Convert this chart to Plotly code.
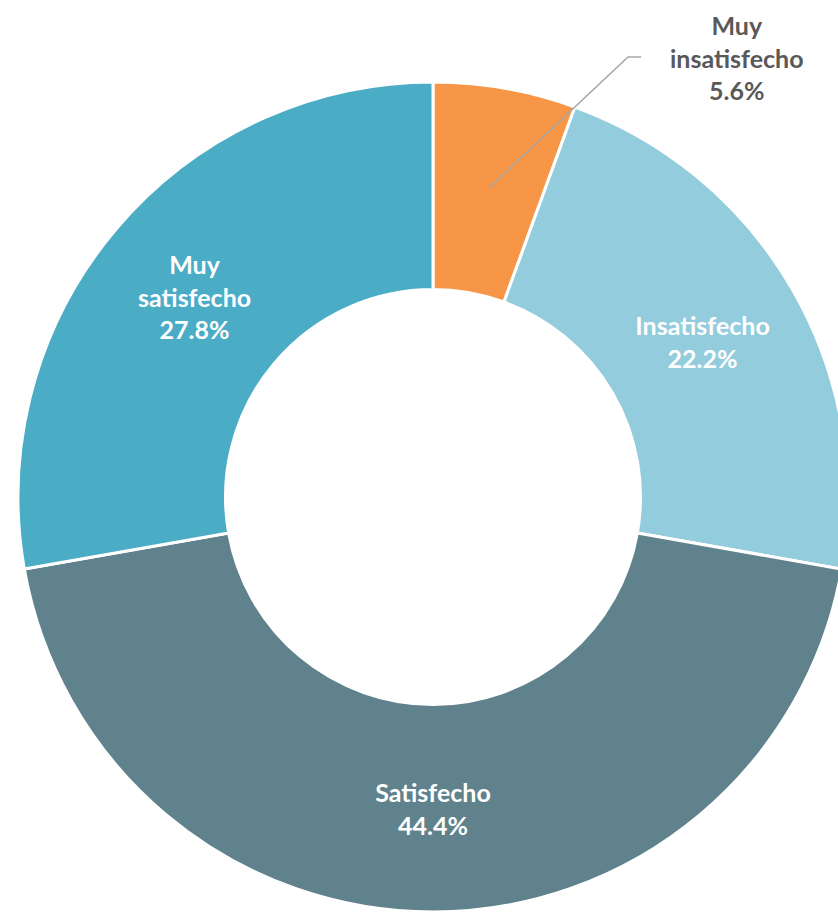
import plotly.graph_objects as go

categories = ["Muy insatisfecho", "Insatisfecho", "Satisfecho", "Muy satisfecho"]
counts = [1, 4, 8, 5]
colors = ["#F79646", "#93CDDD", "#60828D", "#4BACC6"]
inside_labels = ["", "Insatisfecho", "Satisfecho", "Muy<br>satisfecho"]

W, H = 860, 913
cx, cy, R = 433, 497, 415

total = sum(counts)
texts = []
for lab, c in zip(inside_labels, counts):
    texts.append("" if lab == "" else f"<b>{lab}<br>{100*c/total:.1f}%</b>")

fig = go.Figure(go.Pie(
    labels=categories,
    values=counts,
    hole=0.5,
    sort=False,
    direction="clockwise",
    rotation=0,
    marker=dict(colors=colors, line=dict(color="white", width=3)),
    text=texts,
    textinfo="text",
    textposition="inside",
    insidetextorientation="horizontal",
    textfont=dict(family="Lato", size=25, color="white"),
    showlegend=False,
    hoverinfo="label+percent",
    domain=dict(x=[(cx - R) / W, (cx + R) / W], y=[(H - cy - R) / H, (H - cy + R) / H]),
))

def px(x, y):
    return x / W, 1 - y / H

x0, y0 = px(489, 188)
x1, y1 = px(628, 57)
x2, y2 = px(641, 57)
fig.add_shape(type="path", xref="paper", yref="paper",
              path=f"M {x0} {y0} L {x1} {y1} L {x2} {y2}",
              line=dict(color="#A6A6A6", width=1.5))

ax, ay = px(737, 57)
fig.add_annotation(
    x=ax, y=ay, xref="paper", yref="paper",
    xanchor="center", yanchor="middle",
    text=f"<b>Muy<br>insatisfecho<br>{100*counts[0]/total:.1f}%</b>",
    showarrow=False, align="center",
    font=dict(family="Lato", size=25, color="#595959"),
)

fig.update_layout(
    width=W, height=H, autosize=False,
    margin=dict(l=0, r=0, t=0, b=0),
    paper_bgcolor="white", plot_bgcolor="white",
)

fig.write_html("out.html", config={"displayModeBar": False},
               post_script="document.body.style.margin='0';document.body.style.overflow='hidden';")
